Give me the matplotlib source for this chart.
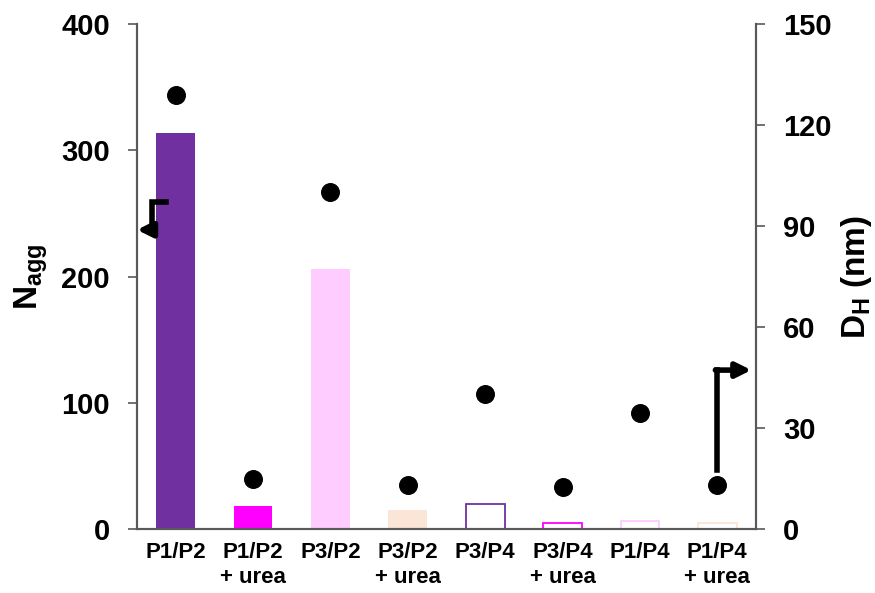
import matplotlib
matplotlib.use("Agg")
import matplotlib.pyplot as plt
import numpy as np

plt.rcParams['font.family'] = ['Liberation Sans', 'DejaVu Sans']
plt.rcParams['font.weight'] = 'bold'
plt.rcParams['mathtext.default'] = 'bf'
plt.rcParams['mathtext.fontset'] = 'custom'
plt.rcParams['mathtext.bf'] = 'Liberation Sans:bold'
plt.rcParams['mathtext.rm'] = 'Liberation Sans:bold'

categories = ["P1/P2", "P1/P2\n+ urea", "P3/P2", "P3/P2\n+ urea",
              "P3/P4", "P3/P4\n+ urea", "P1/P4", "P1/P4\n+ urea"]
n_agg = [314, 18, 206, 15, 20, 5, 6, 5]
d_h = [129, 15, 100, 13, 40, 12.5, 34.5, 13]
bar_colors = ["#7030A0", "#FF00FF", "#FFCCFF", "#FBE5D6",
              "#7030A0", "#FF00FF", "#FFCCFF", "#FBE5D6"]
filled = [True, True, True, True, False, False, False, False]

fig = plt.figure(figsize=(8.75, 5.93), dpi=100)
ax = fig.add_axes([137/875, 1-529/593, (756-137)/875, (529-24)/593])
ax2 = ax.twinx()

x = np.arange(len(categories))
for xi, v, c, f in zip(x, n_agg, bar_colors, filled):
    if f:
        ax.bar(xi, v, width=0.5, color=c, edgecolor='none', zorder=2)
    else:
        ax.bar(xi, v, width=0.5, facecolor='white', edgecolor=c, linewidth=1.3, zorder=2)

ax2.scatter(x, d_h, s=160, color='black', zorder=3)

ax.set_xlim(-0.5, len(categories)-0.5)
ax.set_ylim(0, 400)
ax2.set_ylim(0, 150)
ax.set_yticks([0, 100, 200, 300, 400])
ax2.set_yticks([0, 30, 60, 90, 120, 150])
ax.set_xticks(x)
ax.set_xticklabels(categories, fontsize=16, fontweight='bold', linespacing=1.3)
ax.tick_params(axis='x', length=0, pad=9)
ax.tick_params(axis='y', labelsize=21, length=6.5, width=1.2, color='#595959', pad=13, direction='out')
ax2.tick_params(axis='y', labelsize=21, length=6.5, width=1.2, color='#595959', pad=13, direction='out')
for lab in ax.get_yticklabels() + ax2.get_yticklabels():
    lab.set_fontweight('bold')

for a in (ax, ax2):
    a.spines['top'].set_visible(False)
    for s in ('left', 'right', 'bottom'):
        a.spines[s].set_color('#595959')
        a.spines[s].set_linewidth(1.5)

ax.set_ylabel("N$_{agg}$", fontsize=24, fontweight='bold', labelpad=8)
ax2.set_ylabel("D$_H$ (nm)", fontsize=24, fontweight='bold', labelpad=5, rotation=90)

# Left pointing arrow (N_agg axis)
ax.plot([-0.13, -0.3, -0.3], [259, 259, 237], color='black', lw=4,
        solid_joinstyle='miter', zorder=4)
ax.annotate("", xy=(-0.5, 237), xytext=(-0.3, 237),
            arrowprops=dict(arrowstyle='-|>', color='black', lw=4, mutation_scale=22,
                            shrinkA=0, shrinkB=0),
            zorder=4)

# Right pointing arrow (D_H axis)
ax2.plot([7, 7], [17.5, 47.2], color='black', lw=4, solid_joinstyle='miter', zorder=4)
ax2.annotate("", xy=(7.44, 47.2), xytext=(6.975, 47.2),
             arrowprops=dict(arrowstyle='-|>', color='black', lw=4, mutation_scale=22,
                             shrinkA=0, shrinkB=0),
             zorder=4)

fig.savefig("out.png", dpi=100)
